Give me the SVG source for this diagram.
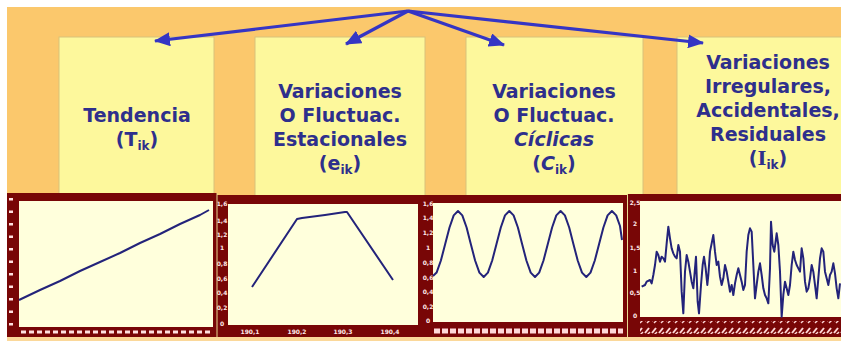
<svg xmlns="http://www.w3.org/2000/svg" width="841" height="341" viewBox="0 0 841 341">
<defs>
<style>
.lbl{font-family:"DejaVu Sans","Liberation Sans",sans-serif;font-weight:bold;font-size:19px;fill:#2e2f8c;text-anchor:middle}
.sub{font-size:12px}
.box{fill:#fdf89c;stroke:#d8c27a;stroke-width:1}
.frame{fill:#780606}
.plot{fill:#ffffdc}
.ax{font-family:"DejaVu Sans","Liberation Sans",sans-serif;font-weight:bold;font-size:6px;fill:#ffe8e8;text-anchor:middle}
.ser{fill:none;stroke:#23237a;stroke-width:2;stroke-linejoin:round}
.arr{stroke:#3535c4;stroke-width:3.2;fill:none}
</style>
<marker id="ah" markerUnits="userSpaceOnUse" viewBox="0 0 16 14" markerWidth="16" markerHeight="14" refX="15" refY="7" orient="auto">
<path d="M0,0 L16,7 L0,14 Z" fill="#3535c4"/>
</marker>
<pattern id="diag" patternUnits="userSpaceOnUse" width="7" height="12">
<path d="M1,9 L5,4" stroke="#ffd8d8" stroke-width="2"/>
<path d="M3,11 L6,8" stroke="#ffd8d8" stroke-width="1.5"/>
</pattern>
</defs>
<rect x="0" y="0" width="841" height="341" fill="#ffffff"/>
<rect x="7" y="7" width="834" height="334" fill="#fbc86c"/>

<g id="node-tendencia">
<rect class="box" x="59" y="37" width="155" height="160"/>
<text class="lbl" x="137" y="122">Tendencia</text>
<text class="lbl" x="137" y="146">(T<tspan class="sub" dy="4">ik</tspan><tspan dy="-4">)</tspan></text>
</g>
<g id="node-estacionales">
<rect class="box" x="255" y="37" width="170" height="160"/>
<text class="lbl" x="340" y="98">Variaciones</text>
<text class="lbl" x="340" y="122">O Fluctuac.</text>
<text class="lbl" x="340" y="146">Estacionales</text>
<text class="lbl" x="340" y="170">(e<tspan class="sub" dy="4">ik</tspan><tspan dy="-4">)</tspan></text>
</g>
<g id="node-ciclicas">
<rect class="box" x="466" y="37" width="177" height="160"/>
<text class="lbl" x="554" y="98">Variaciones</text>
<text class="lbl" x="554" y="122">O Fluctuac.</text>
<text class="lbl" x="554" y="146" font-style="italic">Cíclicas</text>
<text class="lbl" x="554" y="170">(<tspan font-style="italic">C</tspan><tspan class="sub" dy="4">ik</tspan><tspan dy="-4">)</tspan></text>
</g>
<g id="node-irregulares">
<rect class="box" x="677" y="37" width="170" height="160"/>
<text class="lbl" x="768" y="69">Variaciones</text>
<text class="lbl" x="768" y="93">Irregulares,</text>
<text class="lbl" x="768" y="117">Accidentales,</text>
<text class="lbl" x="768" y="141">Residuales</text>
<text class="lbl" x="768" y="165">(<tspan font-family="DejaVu Serif,serif">I</tspan><tspan class="sub" dy="4">ik</tspan><tspan dy="-4">)</tspan></text>
</g>

<g id="connectors">
<line class="arr" x1="408" y1="11" x2="155" y2="41" marker-end="url(#ah)"/>
<line class="arr" x1="408" y1="11" x2="346" y2="44" marker-end="url(#ah)"/>
<line class="arr" x1="408" y1="11" x2="504" y2="45" marker-end="url(#ah)"/>
<line class="arr" x1="408" y1="11" x2="703" y2="43" marker-end="url(#ah)"/>
</g>

<g id="chart-tendencia">
<rect class="frame" x="7" y="193" width="210" height="144"/>
<rect class="plot" x="19" y="201" width="194" height="126"/>
<line x1="11" y1="198" x2="11" y2="328" stroke="#ffe0e0" stroke-width="4" stroke-dasharray="2.5 10"/>
<line x1="21" y1="332" x2="210" y2="332" stroke="#ffe0e0" stroke-width="3" stroke-dasharray="5 3"/>
<polyline class="ser" stroke-width="1.6" points="19,300 40,290 60,281 80,271 100,262 120,253 140,243 160,234 180,224 200,215 209,210"/>
</g>

<g id="chart-estacionales">
<rect class="frame" x="217" y="195" width="206" height="142"/>
<rect class="plot" x="228" y="204" width="190" height="121"/>
<text class="ax" x="222" y="206">1,6</text>
<text class="ax" x="222" y="223">1,4</text>
<text class="ax" x="222" y="237">1,2</text>
<text class="ax" x="222" y="250">1</text>
<text class="ax" x="222" y="266">0,8</text>
<text class="ax" x="222" y="281">0,6</text>
<text class="ax" x="222" y="295">0,4</text>
<text class="ax" x="222" y="310">0,2</text>
<text class="ax" x="222" y="326">0</text>
<text class="ax" x="250" y="334">190,1</text>
<text class="ax" x="297" y="334">190,2</text>
<text class="ax" x="343" y="334">190,3</text>
<text class="ax" x="390" y="334">190,4</text>
<polyline class="ser" points="252,287 297,219 302,218 325,215 345,212 347,212 393,280"/>
</g>

<g id="chart-ciclicas">
<rect class="frame" x="423" y="195" width="205" height="142"/>
<rect class="plot" x="433" y="203" width="190" height="119"/>
<text class="ax" x="428" y="206">1,6</text>
<text class="ax" x="428" y="220">1,4</text>
<text class="ax" x="428" y="235">1,2</text>
<text class="ax" x="428" y="250">1</text>
<text class="ax" x="428" y="265">0,8</text>
<text class="ax" x="428" y="280">0,6</text>
<text class="ax" x="428" y="294">0,4</text>
<text class="ax" x="428" y="309">0,2</text>
<text class="ax" x="428" y="323">0</text>
<line x1="434" y1="331" x2="623" y2="331" stroke="#ffd8d8" stroke-width="5" stroke-dasharray="6 2"/>
<polyline class="ser" stroke-width="1.7" points="433,276 436.6,272.6 440.9,260.5 445.2,244 449.5,227.5 453.7,215.4 458,211 462.3,215.4 466.6,227.5 470.8,244 475.1,260.5 479.4,272.6 483.7,277 487.9,272.6 492.2,260.5 496.5,244 500.8,227.5 505,215.4 509.3,211 513.6,215.4 517.9,227.5 522.1,244 526.4,260.5 530.7,272.6 535,277 539.2,272.6 543.5,260.5 547.8,244 552.1,227.5 556.3,215.4 560.6,211 564.9,215.4 569.2,227.5 573.4,244 577.7,260.5 582,272.6 586.3,277 590.5,272.6 594.8,260.5 599.1,244 603.4,227.5 607.6,215.4 611.9,211 616.2,215.4 620,226 622,240"/>
</g>

<g id="chart-irregulares">
<rect class="frame" x="628" y="194" width="213" height="143"/>
<rect class="plot" x="640" y="201" width="201" height="116"/>
<text class="ax" x="635" y="205">2,5</text>
<text class="ax" x="635" y="226">2</text>
<text class="ax" x="635" y="250">1,5</text>
<text class="ax" x="635" y="273">1</text>
<text class="ax" x="635" y="295">0,5</text>
<text class="ax" x="635" y="318">0</text>
<rect x="640" y="321" width="201" height="13" fill="url(#diag)"/>
<g transform="translate(625 185) scale(0.33333)">
<polyline class="ser" vector-effect="non-scaling-stroke" stroke-width="2" points="50,305 60,300 65,290 75,285 80,295 85,270 90,240 95,200 100,210 105,230 110,215 115,220 120,230 125,175 130,125 135,160 140,190 145,205 150,215 155,220 160,180 165,200 170,320 175,385 180,260 185,210 190,230 195,260 200,290 205,310 210,250 213,215 218,350 222,385 228,300 233,240 237,215 242,250 247,300 250,270 255,200 260,175 265,150 270,200 275,240 280,230 285,275 290,300 295,280 300,240 305,260 310,290 315,320 320,300 325,330 330,295 335,270 340,250 345,270 350,290 355,315 360,300 365,200 370,150 375,130 380,140 385,240 390,340 395,300 400,260 405,235 410,270 415,310 420,330 425,340 430,355 435,250 438,110 443,180 448,200 455,145 460,180 465,260 470,395 475,330 480,290 485,310 490,330 495,300 500,240 505,200 510,225 515,240 520,250 525,260 530,190 535,220 540,290 545,320 550,310 555,280 560,240 565,260 570,300 575,340 580,280 585,220 590,190 595,200 600,260 605,280 610,300 615,270 620,260 625,235 630,265 635,310 640,340 645,295"/>
</g>
</g>
<line x1="217" y1="193" x2="217" y2="337" stroke="#e8d890" stroke-width="1"/>
<line x1="627.5" y1="194" x2="627.5" y2="337" stroke="#e8d890" stroke-width="1"/>
<rect x="7" y="337" width="834" height="4" fill="#fbd89a"/>
</svg>
